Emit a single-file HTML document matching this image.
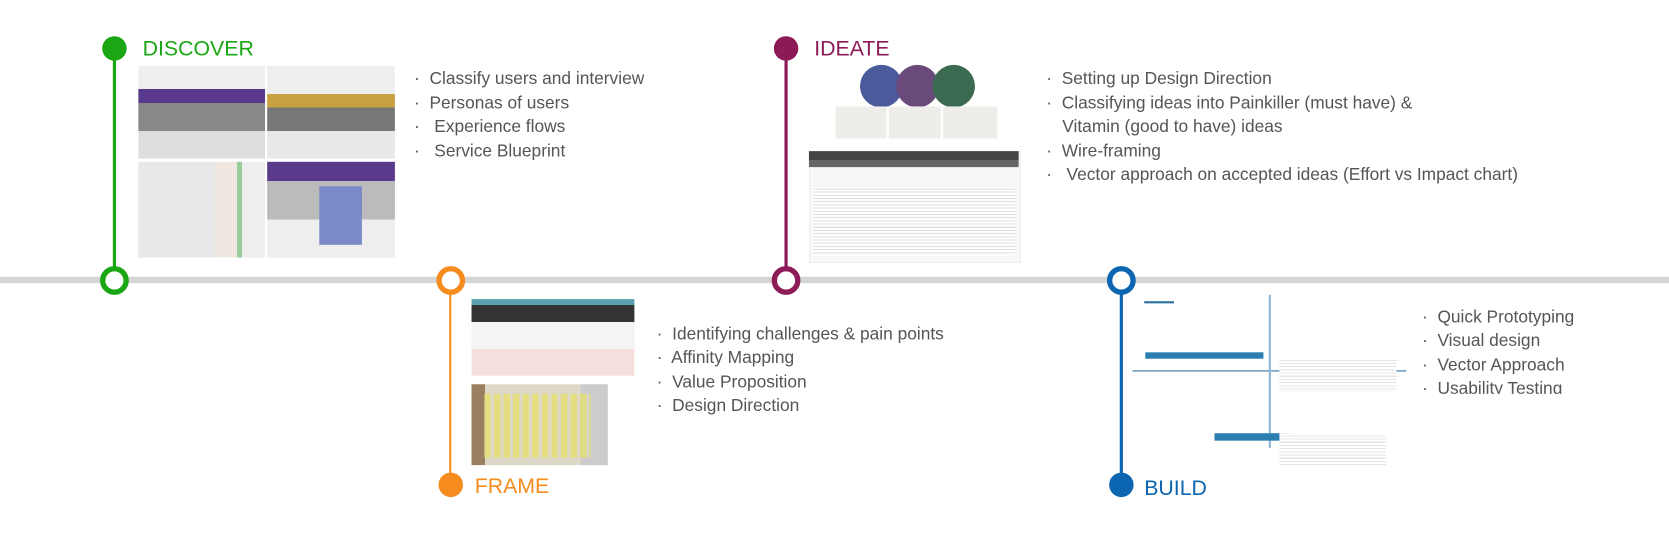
<!DOCTYPE html>
<html><head><meta charset="utf-8"><style>
body{margin:0;width:1669px;height:559px;background:#fff;position:relative;overflow:hidden;font-family:"Liberation Sans",sans-serif}
#w{position:absolute;left:0;top:0;width:1568px;height:525px;transform:scale(1.0644);transform-origin:0 0}
.a{position:absolute}
.t{position:absolute;font-size:16.3px;color:#555;white-space:nowrap;line-height:20px}
.h{position:absolute;font-size:20px;line-height:24px}
</style></head><body><div id="w">
<div class="a" style="left:0;top:260px;width:1669px;height:6px;background:#d4d4d4"></div>
<div class="a" style="left:106px;top:45px;width:3px;height:218px;background:#1aa713"></div>
<div class="a" style="left:737px;top:45px;width:3px;height:218px;background:#8c1a56"></div>
<div class="a" style="left:422px;top:263px;width:2px;height:192px;background:#f68b1e"></div>
<div class="a" style="left:1052px;top:263px;width:3px;height:192px;background:#0b65b0"></div>
<div class="a" style="left:94px;top:250px;width:17px;height:17px;border:5px solid #1aa713;border-radius:50%;background:#fff"></div>
<div class="a" style="left:410px;top:250px;width:17px;height:17px;border:5px solid #f68b1e;border-radius:50%;background:#fff"></div>
<div class="a" style="left:725px;top:250px;width:17px;height:17px;border:5px solid #8c1a56;border-radius:50%;background:#fff"></div>
<div class="a" style="left:1040px;top:250px;width:17px;height:17px;border:5px solid #0b65b0;border-radius:50%;background:#fff"></div>
<div class="a" style="left:96px;top:34px;width:23px;height:23px;border-radius:50%;background:#1aa713"></div>
<div class="a" style="left:727px;top:34px;width:23px;height:23px;border-radius:50%;background:#8c1a56"></div>
<div class="a" style="left:412px;top:444px;width:23px;height:23px;border-radius:50%;background:#f68b1e"></div>
<div class="a" style="left:1042px;top:444px;width:23px;height:23px;border-radius:50%;background:#0b65b0"></div>
<div class="h" style="left:134px;top:34px;color:#1aa713">DISCOVER</div>
<div class="h" style="left:765px;top:34px;color:#8c1a56">IDEATE</div>
<div class="h" style="left:446px;top:445px;color:#f68b1e">FRAME</div>
<div class="h" style="left:1075px;top:447px;color:#0b65b0">BUILD</div>
<div class="a" style="left:130px;top:62px;width:119px;height:87px;background:linear-gradient(#eee 0 25%,#5a3a8a 25% 40%,#888 40% 70%,#ddd 70%)"></div>
<div class="a" style="left:251px;top:62px;width:120px;height:87px;background:linear-gradient(#eee 0 30%,#c9a040 30% 45%,#777 45% 70%,#e8e8e8 70%)"></div>
<div class="a" style="left:130px;top:152px;width:119px;height:90px;background:linear-gradient(90deg,#e8e8e8 0 60%,#f0e8e0 60% 78%,#9c9 78% 82%,#eee 82%)"></div>
<div class="a" style="left:251px;top:152px;width:120px;height:90px;background:linear-gradient(#5a3a8a 0 20%,#bbb 20% 60%,#eee 60%)"></div>
<div class="a" style="left:300px;top:175px;width:40px;height:55px;background:#7a8ac8"></div>
<div class="t" style="left:389px;top:64px">·&nbsp; Classify users and interview</div>
<div class="t" style="left:389px;top:87px">·&nbsp; Personas of users</div>
<div class="t" style="left:389px;top:109px">·&nbsp;&nbsp; Experience flows</div>
<div class="t" style="left:389px;top:132px">·&nbsp;&nbsp; Service Blueprint</div>
<div class="a" style="left:808px;top:61px;width:40px;height:40px;border-radius:50%;background:#4a5a9a"></div>
<div class="a" style="left:842px;top:61px;width:40px;height:40px;border-radius:50%;background:#6a4a7a"></div>
<div class="a" style="left:876px;top:61px;width:40px;height:40px;border-radius:50%;background:#3a6a50"></div>
<div class="a" style="left:785px;top:100px;width:48px;height:30px;background:#eeede9"></div>
<div class="a" style="left:835px;top:100px;width:49px;height:30px;background:#eeede9"></div>
<div class="a" style="left:886px;top:100px;width:51px;height:30px;background:#eeede9"></div>
<div class="a" style="left:760px;top:142px;width:197px;height:103px;background:#f8f8f8;border:1px solid #eee"></div>
<div class="a" style="left:760px;top:142px;width:197px;height:9px;background:#444"></div>
<div class="a" style="left:760px;top:151px;width:197px;height:6px;background:#666"></div>
<div class="a" style="left:764px;top:175px;width:190px;height:65px;background:repeating-linear-gradient(#fff 0 2px,#ddd 2px 3px)"></div>
<div class="t" style="left:983px;top:64px">·&nbsp; Setting up Design Direction</div>
<div class="t" style="left:983px;top:87px">·&nbsp; Classifying ideas into Painkiller (must have) &amp;</div>
<div class="t" style="left:998px;top:109px">Vitamin (good to have) ideas</div>
<div class="t" style="left:983px;top:132px">·&nbsp; Wire-framing</div>
<div class="t" style="left:983px;top:154px">·&nbsp;&nbsp; Vector approach on accepted ideas (Effort vs Impact chart)</div>
<div class="a" style="left:443px;top:281px;width:153px;height:72px;background:linear-gradient(#5aa0b0 0 8%,#333 8% 30%,#f4f4f4 30% 65%,#f4dede 65%)"></div>
<div class="a" style="left:443px;top:361px;width:128px;height:76px;background:linear-gradient(90deg,#9a8060 0 10%,#ddd8c8 10% 80%,#ccc 80%)"></div>
<div class="a" style="left:455px;top:370px;width:100px;height:60px;background:repeating-linear-gradient(90deg,#e6e070 0 6px,transparent 6px 9px),#ddd8c8;opacity:.8"></div>
<div class="t" style="left:617px;top:304px">·&nbsp; Identifying challenges &amp; pain points</div>
<div class="t" style="left:617px;top:326px">·&nbsp; Affinity Mapping</div>
<div class="t" style="left:617px;top:349px">·&nbsp; Value Proposition</div>
<div class="t" style="left:617px;top:371px">·&nbsp; Design Direction</div>
<div class="a" style="left:1064px;top:348px;width:257px;height:1px;background:#2a6fa0"></div>
<div class="a" style="left:1192px;top:277px;width:2px;height:144px;background:#8fb5d8"></div>
<div class="a" style="left:1075px;top:283px;width:28px;height:2px;background:#2a6fa0"></div>
<div class="a" style="left:1076px;top:331px;width:111px;height:6px;background:#2a7fb0"></div>
<div class="a" style="left:1141px;top:407px;width:70px;height:7px;background:#2a7fb0"></div>
<div class="a" style="left:1202px;top:336px;width:110px;height:32px;background:repeating-linear-gradient(#fff 0 2px,#e4e4e4 2px 3px)"></div>
<div class="a" style="left:1202px;top:407px;width:100px;height:30px;background:repeating-linear-gradient(#fff 0 2px,#e4e4e4 2px 3px)"></div>
<div class="t" style="left:1336px;top:288px">·&nbsp; Quick Prototyping</div>
<div class="t" style="left:1336px;top:310px">·&nbsp; Visual design</div>
<div class="t" style="left:1336px;top:333px">·&nbsp; Vector Approach</div>
<div class="a" style="left:1336px;top:352px;width:200px;height:18px;overflow:hidden"><div class="t" style="left:0;top:3px">·&nbsp; Usability Testing</div></div>
</div></body></html>
